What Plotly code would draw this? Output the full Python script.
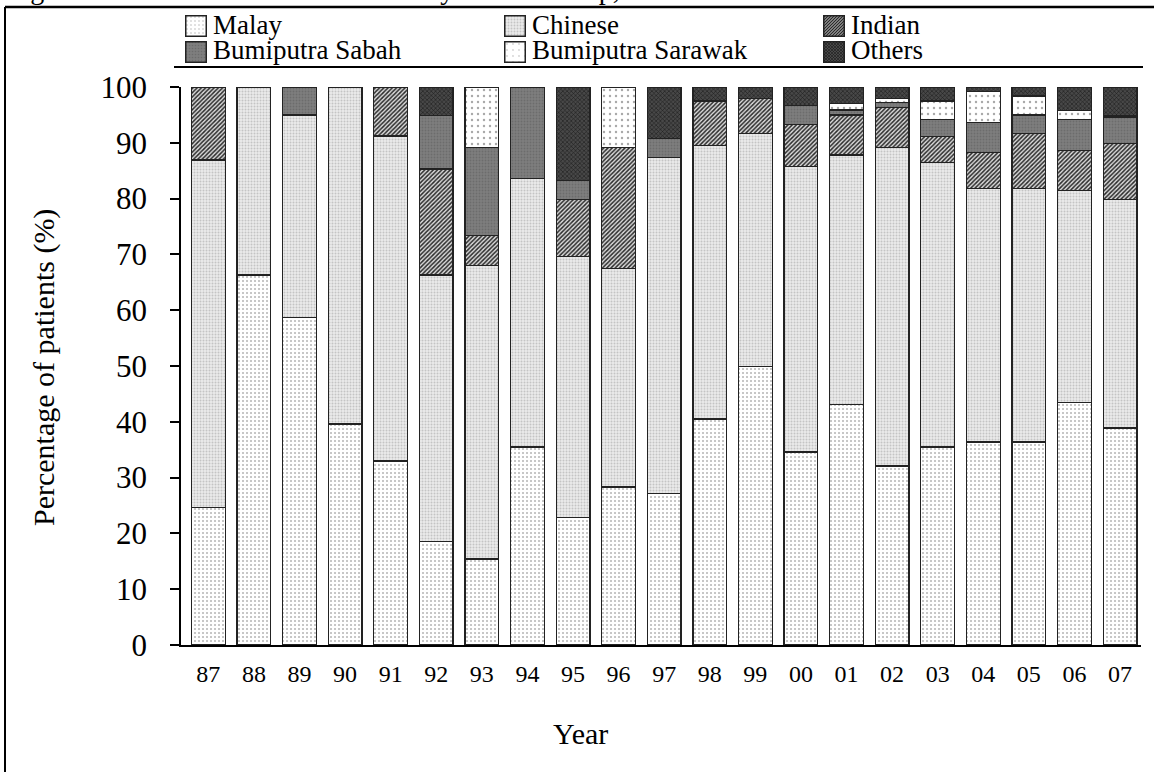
import base64
import plotly.graph_objects as go

years = ["87", "88", "89", "90", "91", "92", "93", "94", "95", "96", "97",
         "98", "99", "00", "01", "02", "03", "04", "05", "06", "07"]
malay = [24.7, 66.3, 58.7, 39.6, 33.0, 18.6, 15.4, 35.5, 22.9, 28.3, 27.1,
         40.5, 49.9, 34.6, 43.1, 32.1, 35.5, 36.4, 36.4, 43.4, 38.9]
chinese = [62.2, 33.7, 36.3, 60.4, 58.2, 47.7, 52.6, 48.1, 46.7, 39.2, 60.3,
           49.0, 41.8, 51.1, 44.7, 57.0, 51.0, 45.4, 45.4, 38.1, 41.0]
indian = [13.1, 0, 0, 0, 8.8, 19.0, 5.4, 0, 10.2, 21.6, 0,
          8.0, 6.2, 7.6, 7.2, 7.2, 4.6, 6.5, 9.9, 7.1, 10.0]
bumi_sabah = [0, 0, 5.0, 0, 0, 9.6, 15.7, 16.4, 3.4, 0, 3.4,
              0, 0, 3.4, 0.9, 0.9, 3.1, 5.4, 3.3, 5.6, 4.6]
bumi_sarawak = [0, 0, 0, 0, 0, 0, 10.9, 0, 0, 10.9, 0,
                0, 0, 0, 1.2, 0.7, 3.3, 5.5, 3.4, 1.6, 0.3]
others = [0, 0, 0, 0, 0, 5.1, 0, 0, 16.8, 0, 9.2,
          2.5, 2.1, 3.3, 2.9, 2.1, 2.5, 0.8, 1.6, 4.2, 5.2]

series_names = ["Malay", "Chinese", "Indian", "Bumiputra Sabah", "Bumiputra Sarawak", "Others"]
series_vals = [malay, chinese, indian, bumi_sabah, bumi_sarawak, others]
y_ticks = [0, 10, 20, 30, 40, 50, 60, 70, 80, 90, 100]

# pattern styles (shape, fg, bg, size, solidity)
styles = [
    (".", "#b4b4b4", "#ffffff", 4, 0.2),
    (".", "#c4c4c4", "#ebebeb", 3, 0.35),
    ("/", "#2a2a2a", "#dcdcdc", 3, 0.5),
    (".", "#6c6c6c", "#7e7e7e", 3, 0.3),
    (".", "#a8a8a8", "#ffffff", 6, 0.12),
    ("x", "#1c1c1c", "#484848", 3, 0.35),
]

FONT = "Liberation Serif, Times New Roman, serif"

fig = go.Figure()
for name, vals, st in zip(series_names, series_vals, styles):
    shp, fg, bg, sz, sol = st
    fig.add_trace(go.Bar(
        x=years, y=[v if v else None for v in vals], name=name,
        width=0.74, showlegend=False,
        marker=dict(color=bg,
                    line=dict(color="#222222", width=1.3),
                    pattern=dict(shape=shp, fgcolor=fg, bgcolor=bg, size=sz,
                                 solidity=sol, fillmode="replace")),
    ))

W, H = 1154, 772
L, R, T, B = 181, 13, 87, 127
PW, PH = W - L - R, H - T - B


def px(x):
    return (x - L) / PW


def py(y):
    return (H - B - y) / PH


def swatch_svg(st):
    shp, fg, bg, sz, sol = st
    if shp == ".":
        r = max(0.5, sz * sol * 0.9)
        inner = f"<circle cx='{sz/2}' cy='{sz/2}' r='{r:.2f}' fill='{fg}'/>"
    elif shp == "/":
        inner = (f"<path d='M0,{sz} L{sz},0 M-1,1 L1,-1 M{sz-1},{sz+1} L{sz+1},{sz-1}' "
                 f"stroke='{fg}' stroke-width='{sz*sol:.2f}'/>")
    else:
        inner = (f"<path d='M0,0 L{sz},{sz} M0,{sz} L{sz},0' stroke='{fg}' "
                 f"stroke-width='{sz*sol*0.6:.2f}'/>")
    svg = (f"<svg xmlns='http://www.w3.org/2000/svg' width='22' height='22'>"
           f"<defs><pattern id='p' width='{sz}' height='{sz}' patternUnits='userSpaceOnUse'>"
           f"<rect width='{sz}' height='{sz}' fill='{bg}'/>{inner}</pattern></defs>"
           f"<rect x='0.75' y='0.75' width='20.5' height='20.5' fill='url(#p)' "
           f"stroke='#222' stroke-width='1.5'/></svg>")
    return "data:image/svg+xml;base64," + base64.b64encode(svg.encode()).decode()


images = []
annotations = []
col_x = [185, 504, 823]
row_top = [15, 41]
row_mid = [24.5, 50.5]
for i, (name, st) in enumerate(zip(series_names, styles)):
    r, c = divmod(i, 3)
    images.append(dict(source=swatch_svg(st), xref="paper", yref="paper",
                       x=px(col_x[c]), y=py(row_top[r]), sizex=22 / PW, sizey=22 / PH,
                       xanchor="left", yanchor="top", sizing="stretch", layer="above"))
    annotations.append(dict(text=name, xref="paper", yref="paper",
                            x=px(col_x[c] + 26), y=py(row_mid[r]),
                            xanchor="left", yanchor="middle", showarrow=False,
                            font=dict(family=FONT, size=27, color="black")))

annotations += [
    dict(text="Figure 2.1.1: Distribution of Patients by Ethnic Group, 1987-2007",
         xref="paper", yref="paper", x=px(5), y=py(7.5), xanchor="left", yanchor="bottom",
         showarrow=False, font=dict(family=FONT, size=28, color="black")),
    dict(text="Percentage of patients (%)", xref="paper", yref="paper",
         x=px(44), y=py(368), textangle=-90, xanchor="center", yanchor="middle",
         showarrow=False, font=dict(family=FONT, size=30, color="black")),
    dict(text="Year", xref="paper", yref="paper", x=px(580), y=py(733),
         xanchor="center", yanchor="middle", showarrow=False,
         font=dict(family=FONT, size=30, color="black")),
]

shapes = [
    # outer frame (left and top edges)
    dict(type="line", xref="paper", yref="paper", x0=px(5), x1=px(5), y0=py(790), y1=py(7),
         line=dict(color="black", width=2)),
    dict(type="line", xref="paper", yref="paper", x0=px(5), x1=px(1170), y0=py(7), y1=py(7),
         line=dict(color="black", width=2.5)),
    # rule below legend
    dict(type="line", xref="paper", yref="paper", x0=px(174), x1=px(1143), y0=py(67), y1=py(67),
         line=dict(color="black", width=2)),
    # x axis line stub left of y axis
    dict(type="line", xref="paper", yref="paper", x0=px(172), x1=0, y0=0, y1=0,
         line=dict(color="black", width=2)),
]

fig.update_layout(
    width=W, height=H, margin=dict(l=L, r=R, t=T, b=B, autoexpand=False),
    barmode="stack", paper_bgcolor="white", plot_bgcolor="white",
    font=dict(family=FONT, color="black"),
    showlegend=False, images=images, annotations=annotations, shapes=shapes,
    xaxis=dict(type="category", range=[-0.6, 20.46], showline=True, linecolor="black",
               linewidth=2, ticks="", showgrid=False, zeroline=False,
               tickfont=dict(family=FONT, size=24, color="black"), ticklabelstandoff=6),
    yaxis=dict(range=[0, 100], tickvals=y_ticks, showline=True, linecolor="black",
               linewidth=1.5, ticks="outside", ticklen=9, tickwidth=1.5, tickcolor="black",
               showgrid=False, zeroline=False, ticklabelstandoff=17,
               tickfont=dict(family=FONT, size=31, color="black")),
)

fig.write_html("out.html")
